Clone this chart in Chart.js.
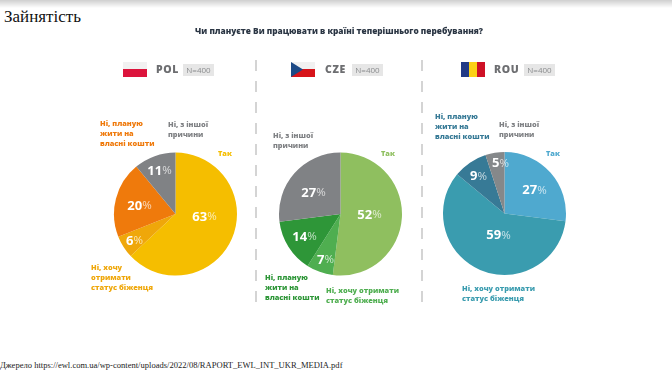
<!DOCTYPE html>
<html>
<head>
<meta charset="utf-8">
<script src="https://cdn.jsdelivr.net/npm/chart.js@4"></script>
<style>
  html, body { margin: 0; padding: 0; background: #fff; }
  #page { position: relative; width: 672px; height: 373px; overflow: hidden; }
  #shade { position: absolute; left: 0; top: 0; width: 672px; height: 8px; background: linear-gradient(#cfcfcf, #fff); }
  .abs { position: absolute; white-space: nowrap; }
  #heading { left: 4px; top: 7px; font: 17px/20px "Liberation Serif", serif; color: #111; }
  #question { left: 195px; top: 25px; font: 800 8.3px/12px "Open Sans", sans-serif; color: #2b3644; }
  #source { left: 0; top: 358px; font: 8.55px/14px "Liberation Serif", serif; color: #222; }
  #soft { position: absolute; left: 0; top: 0; width: 672px; height: 373px; filter: blur(0.5px); }
  .cat { font: 800 7.4px/10px "Open Sans", sans-serif; }
  .code { font: 800 10.5px/14px "Open Sans", sans-serif; color: #6d6e71; letter-spacing: 0.6px; }
  .n { width: 31px; height: 12px; background: #e6e6e6; color: #8a8c8e; text-align: center; font: 8px/12px "Open Sans", sans-serif; }
  .dash { width: 2px; top: 60px; height: 252px; background: repeating-linear-gradient(#d4d4d4 0 11px, transparent 11px 21px); }
  canvas { position: absolute; }
</style>
</head>
<body>
<div id="page">
  <div id="shade"></div>
  <div class="abs" id="heading">Зайнятість</div>
  <div class="abs" id="source">Джерело https://ewl.com.ua/wp-content/uploads/2022/08/RAPORT_EWL_INT_UKR_MEDIA.pdf</div>
  <div id="soft">
    <div class="abs" id="question">Чи плануєте Ви працювати в країні теперішнього перебування?</div>
    <div class="abs dash" style="left:255px"></div>
    <div class="abs dash" style="left:421px"></div>
    <svg class="abs" style="left:123px;top:62px" width="24" height="15"><rect width="24" height="7" fill="#f1f1f1"/><rect y="7" width="24" height="8" fill="#dc143c"/></svg>
    <svg class="abs" style="left:291px;top:62px" width="24" height="15"><rect width="24" height="7" fill="#f1f1f1"/><rect y="7" width="24" height="8" fill="#d7141a"/><path d="M0 0L12 7.5L0 15Z" fill="#1d4a86"/></svg>
    <svg class="abs" style="left:461px;top:62px" width="24" height="15"><rect width="8" height="15" fill="#213a86"/><rect x="8" width="8" height="15" fill="#fcd116"/><rect x="16" width="8" height="15" fill="#ce1126"/></svg>
    <div class="abs code" style="left:156px;top:62px">POL</div>
    <div class="abs code" style="left:325px;top:62px">CZE</div>
    <div class="abs code" style="left:494px;top:62px">ROU</div>
    <div class="abs n" style="left:183px;top:64px">N=400</div>
    <div class="abs n" style="left:352px;top:64px">N=400</div>
    <div class="abs n" style="left:524px;top:64px">N=400</div>

    <div class="abs cat" style="left:100px;top:118px;color:#ef7a0c">Ні, планую<br>жити на<br>власні кошти</div>
    <div class="abs cat" style="left:168px;top:119px;color:#808285">Ні, з іншої<br>причини</div>
    <div class="abs cat" style="left:218px;top:148px;color:#f5be00">Так</div>
    <div class="abs cat" style="left:91px;top:262px;color:#efa70a">Ні, хочу<br>отримати<br>статус біженця</div>

    <div class="abs cat" style="left:273px;top:130px;color:#808285">Ні, з іншої<br>причини</div>
    <div class="abs cat" style="left:381px;top:148px;color:#8fbf5f">Так</div>
    <div class="abs cat" style="left:265px;top:272px;color:#2e9638">Ні, планую<br>жити на<br>власні кошти</div>
    <div class="abs cat" style="left:326px;top:285px;color:#4fae50">Ні, хочу отримати<br>статус біженця</div>

    <div class="abs cat" style="left:435px;top:111px;color:#377a96">Ні, планую<br>жити на<br>власні кошти</div>
    <div class="abs cat" style="left:499px;top:119px;color:#808285">Ні, з іншої<br>причини</div>
    <div class="abs cat" style="left:546px;top:148px;color:#4fa9cf">Так</div>
    <div class="abs cat" style="left:462px;top:283px;color:#3a9caf">Ні, хочу отримати<br>статус біженця</div>

    <canvas id="pol" width="127" height="126" style="left:112px;top:151px"></canvas>
    <canvas id="cze" width="127" height="126" style="left:277px;top:151px"></canvas>
    <canvas id="rou" width="127" height="127" style="left:441px;top:150px"></canvas>
  </div>
</div>
<script>
const categories = ['Так', 'Ні, хочу отримати статус біженця', 'Ні, планую жити на власні кошти', 'Ні, з іншої причини'];

const polValues = [63, 6, 20, 11];
const czeValues = [52, 7, 14, 27];
const rouValues = [27, 59, 9, 5];

const polColors = ['#f5be00', '#efa70a', '#ef7a0c', '#808285'];
const czeColors = ['#8fbf5f', '#4fae50', '#2e9638', '#808285'];
const rouColors = ['#4fa9cf', '#3a9caf', '#377a96', '#85888a'];

// where the percent text sits, from the middle of the pie
const polLabelAt = [[29, 2], [-41, 26], [-36, -9], [-16, -44]];
const czeLabelAt = [[29, 0], [-15, 45], [-36, 22], [-27, -22]];
const rouLabelAt = [[30, -24], [-6, 21], [-26, -38], [-4, -51]];

// number in bold white, percent sign thinner
const percentText = {
    id: 'percentText',
    afterDatasetsDraw(chart, args, opts) {
        const ctx = chart.ctx;
        const values = chart.data.datasets[0].data;
        chart.getDatasetMeta(0).data.forEach(function (arc, i) {
            const num = String(values[i]);
            ctx.save();
            ctx.textBaseline = 'middle';
            ctx.font = 'bold 13px "Open Sans", sans-serif';
            const numW = ctx.measureText(num).width;
            ctx.font = '11.5px "Open Sans", sans-serif';
            const signW = ctx.measureText('%').width;
            const x = arc.x + opts.at[i][0] - (numW + signW) / 2;
            const y = arc.y + opts.at[i][1] + 1;
            ctx.fillStyle = 'rgba(255,255,255,0.7)';
            ctx.fillText('%', x + numW, y);
            ctx.font = 'bold 13px "Open Sans", sans-serif';
            ctx.fillStyle = '#fff';
            ctx.fillText(num, x, y);
            ctx.restore();
        });
    }
};

function drawPie(id, values, colors, labelAt) {
    return new Chart(document.getElementById(id), {
        type: 'pie',
        data: {
            labels: categories,
            datasets: [{ data: values, backgroundColor: colors, borderWidth: 0 }]
        },
        options: {
            responsive: false,
            animation: false,
            radius: 61.5,
            layout: { padding: 0 },
            plugins: {
                legend: { display: false },
                tooltip: { enabled: false },
                percentText: { at: labelAt }
            }
        },
        plugins: [percentText]
    });
}

drawPie('pol', polValues, polColors, polLabelAt);
drawPie('cze', czeValues, czeColors, czeLabelAt);
drawPie('rou', rouValues, rouColors, rouLabelAt);
</script>
</body>
</html>
